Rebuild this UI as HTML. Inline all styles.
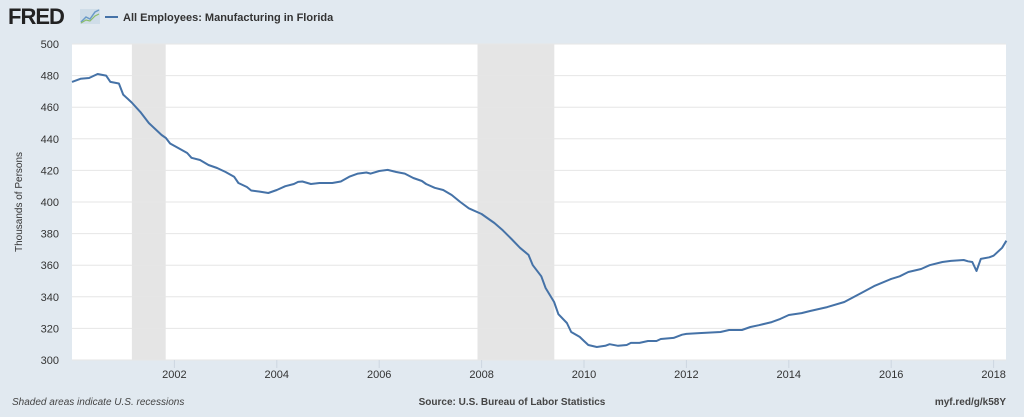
<!DOCTYPE html>
<html><head><meta charset="utf-8"><style>
html,body{margin:0;padding:0;background:#e1e9f0;}
body{width:1024px;height:412px;overflow:hidden;font-family:"Liberation Sans",sans-serif;}
svg text{font-family:"Liberation Sans",sans-serif;}
</style></head><body>
<svg id="chart" width="1024" height="412" xmlns="http://www.w3.org/2000/svg">
<rect x="0" y="0" width="1024" height="412" fill="#e1e9f0"/>
<g>
<text x="8" y="24" font-size="22" font-weight="bold" fill="#222" letter-spacing="-1">FRED</text>
<rect x="80" y="9" width="20" height="15" fill="#cfdde8"/>
<polyline points="81,22 86,17 90,19 95,12 99,10" fill="none" stroke="#6a9ac8" stroke-width="1.5"/>
<polyline points="81,23 86,20 90,21 95,16 99,14" fill="none" stroke="#8bbd6a" stroke-width="1.2"/>
</g>
<g>
<line x1="105" y1="17" x2="118" y2="17" stroke="#4572a7" stroke-width="2"/>
<text x="123" y="21" font-size="11" font-weight="bold" fill="#333">All Employees: Manufacturing in Florida</text>
</g>
<rect x="72" y="44" width="934" height="316" fill="#ffffff"/>
<g id="rec"></g><g id="grid"></g><g id="yt"></g><g id="xt"></g><g id="series"></g>
<text transform="translate(22,202) rotate(-90)" text-anchor="middle" font-size="10" fill="#333">Thousands of Persons</text>
<text x="12" y="405" font-size="10" font-style="italic" fill="#444">Shaded areas indicate U.S. recessions</text>
<text x="512" y="405" text-anchor="middle" font-size="10" font-weight="bold" fill="#444">Source: U.S. Bureau of Labor Statistics</text>
<text x="1006" y="405" text-anchor="end" font-size="10" font-weight="bold" fill="#444">myf.red/g/k58Y</text>
</svg>
<script>
const months=[0,2,4,6,8,9,11,12,14,16,18,21,22,23,25,27,28,30,32,34,36,38,39,41,42,44,46,48,50,52,53,54,56,58,61,63,65,67,69,70,72,74,76,78,80,82,83,85,87,89,91,93,96,98,99,101,103,105,107,108,110,111,113,114,116,117,119,120,121,123,125,126,128,130,131,133,135,137,138,141,143,144,147,152,154,157,159,161,164,166,168,171,173,177,181,185,188,192,194,196,199,201,204,206,209,210,211,212,213,215,216,218,219];
const values=[476,478,478.5,481,480,476,475,468,463,457,450,442.4,440.5,437,434,431,428,426.6,423.4,421.5,419,416,412,409.5,407.3,406.6,405.7,407.6,410,411.4,412.7,413,411.4,412,412,413,416,418,418.7,418,419.6,420.3,419,418,415.2,413.3,411.4,409,407.6,404.4,400,396,392.4,388.6,386.7,382,376.6,371,366.5,360,353,345.6,336.7,329,323.4,317.7,314.6,312,309.5,308.2,309,310,309,309.5,310.8,310.8,312,312,313.3,314,316,316.5,317,317.7,319,319,320.9,322,324,326,328.5,329.7,331,333.5,336.7,342.4,346.8,351.3,353,355.7,357.6,360,362,362.7,363.3,362.5,362,356.3,364,365,366,371,375.5];
const yTicks=[300,320,340,360,380,400,420,440,460,480,500];
const xTickYears=[2002,2004,2006,2008,2010,2012,2014,2016,2018];
const recessions=[[2001.17,2001.83],[2007.92,2009.42]];
const L=72,R=1006,T=44,B=360,y0=300,y1=500;
const xs=yr=>L+(yr-2000)*51.2;
const ys=v=>B-(v-y0)/(y1-y0)*(B-T);
const NS="http://www.w3.org/2000/svg";
function mk(t,a,p){const e=document.createElementNS(NS,t);for(const k in a)e.setAttribute(k,a[k]);p.appendChild(e);return e;}
const rec=document.getElementById('rec');
recessions.forEach(r=>{const e=mk('rect',{x:xs(r[0]),y:T,width:xs(r[1])-xs(r[0]),height:B-T,fill:'#e5e5e5'},rec);

});
const grid=document.getElementById('grid'),yt=document.getElementById('yt');
yTicks.forEach(v=>{const g=mk('line',{x1:L,x2:R,y1:ys(v),y2:ys(v),stroke:'#e6e6e6','stroke-width':1},grid);


const t=mk('text',{x:59,y:ys(v)+4,'text-anchor':'end','font-size':11,fill:'#333'},yt);t.textContent=v;

});
const xt=document.getElementById('xt');
xTickYears.forEach(yr=>{const l=mk('line',{x1:xs(yr),x2:xs(yr),y1:B,y2:B+8,stroke:'#cdd6e0'},xt);


const t=mk('text',{x:xs(yr),y:378,'text-anchor':'middle','font-size':11,fill:'#333'},xt);t.textContent=yr;

});
const pts=months.map((m,i)=>xs(2000+m/12).toFixed(1)+','+ys(values[i]).toFixed(1)).join(' ');
const line=mk('polyline',{points:pts,fill:'none',stroke:'#4572a7','stroke-width':2,'stroke-linejoin':'round'},document.getElementById('series'));


</script>
</body></html>
